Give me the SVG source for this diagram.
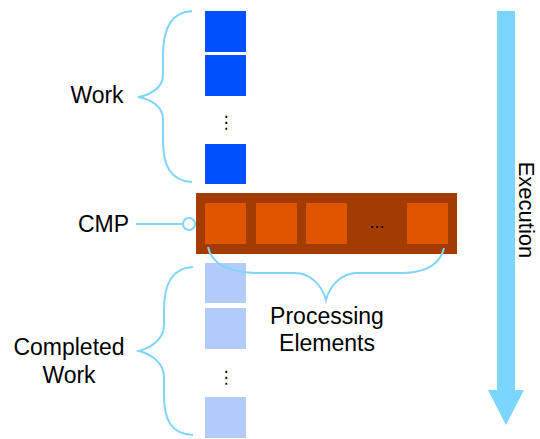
<svg xmlns="http://www.w3.org/2000/svg" width="540" height="439" viewBox="0 0 540 439">
<style>
.lbl{font-family:"Liberation Sans",Arial,sans-serif;font-size:23px;fill:#000}
.work{fill:#0050FF}
.done{fill:#B3CBFA}
.pe{fill:#E05500}
.brace{fill:none;stroke:#80D4F8;stroke-width:2}
.vdots{font-family:"DejaVu Sans",sans-serif;font-size:17px;fill:#000}
</style>
<rect width="540" height="439" fill="#fff"/>
<g id="work">
<rect class="work" x="205" y="11" width="41" height="41"/>
<rect class="work" x="205" y="55" width="41" height="41"/>
<text class="vdots" x="226" y="128" text-anchor="middle">⋮</text>
<rect class="work" x="205" y="144" width="41" height="40"/>
<text class="lbl" x="97" y="103" text-anchor="middle">Work</text>
</g>
<g id="completed">
<rect class="done" x="205" y="263" width="41" height="40"/>
<rect class="done" x="205" y="308" width="41" height="41"/>
<text class="vdots" x="226" y="383" text-anchor="middle">⋮</text>
<rect class="done" x="205" y="397" width="41" height="41"/>
<text class="lbl" x="69" y="355" text-anchor="middle">Completed</text>
<text class="lbl" x="69" y="383" text-anchor="middle">Work</text>
</g>
<g id="cmp">
<rect x="196" y="193" width="261" height="61" fill="#A33C00"/>
<rect class="pe" x="205" y="203" width="41" height="41"/>
<rect class="pe" x="256" y="203" width="41" height="41"/>
<rect class="pe" x="306" y="203" width="41" height="41"/>
<text x="377" y="228" text-anchor="middle" style="font-family:'Liberation Sans',sans-serif;font-size:18px;fill:#000">...</text>
<rect class="pe" x="407" y="203" width="41" height="41"/>
<text class="lbl" x="78" y="232">CMP</text>
</g>
<g id="pe-label">
<text class="lbl" x="327" y="324" text-anchor="middle">Processing</text>
<text class="lbl" x="327" y="351" text-anchor="middle">Elements</text>
</g>
<g id="execution">
<rect x="497" y="11" width="18" height="380" fill="#7AD6FF"/>
<polygon points="488,390 524,390 506,425" fill="#7AD6FF"/>
<text class="lbl" style="font-size:22px" transform="translate(519,210) rotate(90)" text-anchor="middle">Execution</text>
</g>
<g id="connectors">
<path class="brace" d="M192,11 C170,12 163,30 163,55 L163,75 C163,88 150,95 138,97 C150,99 163,106 163,119 L163,140 C163,165 170,181 192,182"/>
<path class="brace" d="M193,267 C171,268 164,285 164,310 L164,325 C164,340 150,348 139,351 C150,354 164,362 164,377 L164,395 C164,420 171,434 193,435"/>
<path class="brace" d="M208,247 C212,265 230,273 260,273 L295,273 C310,273 322,285 326,300 C330,285 342,273 357,273 L400,273 C425,273 440,265 444,248"/>
<line class="brace" x1="136" y1="224" x2="183" y2="224"/>
<circle cx="189" cy="224" r="6" fill="#fff" stroke="#80D4F8" stroke-width="2"/>
</g>
</svg>
